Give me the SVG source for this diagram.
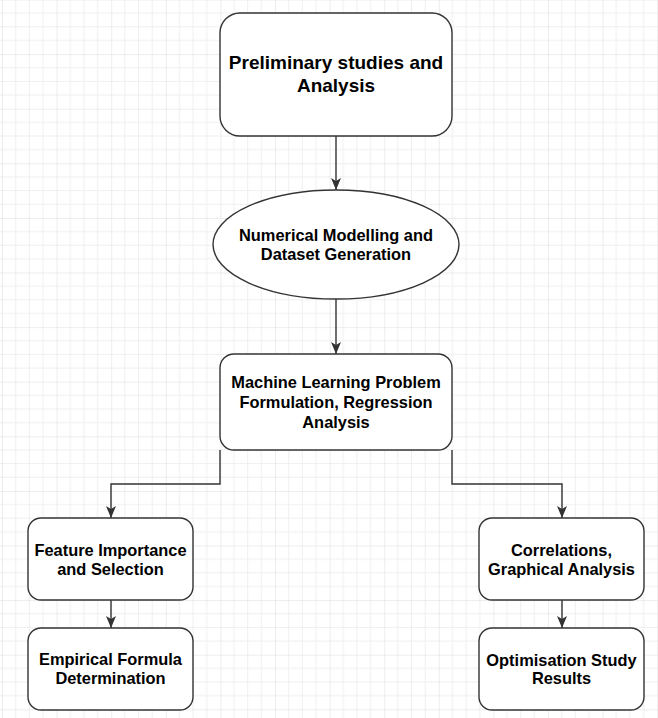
<svg xmlns="http://www.w3.org/2000/svg" width="658" height="718" viewBox="0 0 658 718">
<style>
.box{fill:#fff;stroke:#333;stroke-width:1.4}
.t{font-family:"Liberation Sans",Arial,sans-serif;font-weight:bold;font-size:16.4px;fill:#000;text-anchor:middle}
.tl{font-size:19px}
.c{fill:none;stroke:#333;stroke-width:1.4}
</style>
<defs>
<pattern id="grid" patternUnits="userSpaceOnUse" x="2" y="-0.5" width="54.6" height="54.6">
<path d="M13.65,0V54.6M27.3,0V54.6M40.95,0V54.6M0,13.65H54.6M0,27.3H54.6M0,40.95H54.6" stroke="#efefef" stroke-width="1" fill="none"/>
<path d="M0,0V54.6M0,0H54.6" stroke="#dcdcdc" stroke-width="1" fill="none"/>
</pattern>
<marker id="arr" markerUnits="userSpaceOnUse" viewBox="0 0 12 10" refX="12" refY="5" markerWidth="12" markerHeight="10" orient="auto">
<path d="M0,0L12,5L0,10L3,5Z" fill="#333"/>
</marker>
</defs>
<rect width="658" height="718" fill="#fff"/>
<rect width="658" height="718" fill="url(#grid)"/>
<g id="connectors">
<path class="c" d="M336,136V190" marker-end="url(#arr)"/>
<path class="c" d="M336,299V354" marker-end="url(#arr)"/>
<path class="c" d="M220,450V484H111V518" marker-end="url(#arr)"/>
<path class="c" d="M452,450V484H562V518" marker-end="url(#arr)"/>
<path class="c" d="M111,600V628" marker-end="url(#arr)"/>
<path class="c" d="M562,600V628" marker-end="url(#arr)"/>
</g>
<g id="preliminary">
<rect class="box" x="220" y="13" width="232" height="123" rx="20"/>
<text class="t tl" x="336" y="68.5">Preliminary studies and</text>
<text class="t tl" x="336" y="92">Analysis</text>
</g>
<g id="numerical">
<ellipse class="box" cx="336" cy="244.5" rx="123" ry="54.5"/>
<text class="t" x="336" y="240.5">Numerical Modelling and</text>
<text class="t" x="336" y="260">Dataset Generation</text>
</g>
<g id="ml">
<rect class="box" x="220" y="354" width="232" height="96" rx="14"/>
<text class="t" x="336" y="388.3">Machine Learning Problem</text>
<text class="t" x="336" y="408">Formulation, Regression</text>
<text class="t" x="336" y="427.5">Analysis</text>
</g>
<g id="feature">
<rect class="box" x="28" y="518" width="165" height="82" rx="13"/>
<text class="t" x="110.5" y="556">Feature Importance</text>
<text class="t" x="110.5" y="575.3">and Selection</text>
</g>
<g id="empirical">
<rect class="box" x="28" y="628" width="165" height="82" rx="13"/>
<text class="t" x="110.5" y="665.3">Empirical Formula</text>
<text class="t" x="110.5" y="684.3">Determination</text>
</g>
<g id="correlations">
<rect class="box" x="479" y="518" width="165" height="82" rx="13"/>
<text class="t" x="561.5" y="556">Correlations,</text>
<text class="t" x="561.5" y="575">Graphical Analysis</text>
</g>
<g id="optimisation">
<rect class="box" x="479" y="628" width="165" height="82" rx="13"/>
<text class="t" x="561.5" y="665.7">Optimisation Study</text>
<text class="t" x="561.5" y="684.3">Results</text>
</g>
</svg>
